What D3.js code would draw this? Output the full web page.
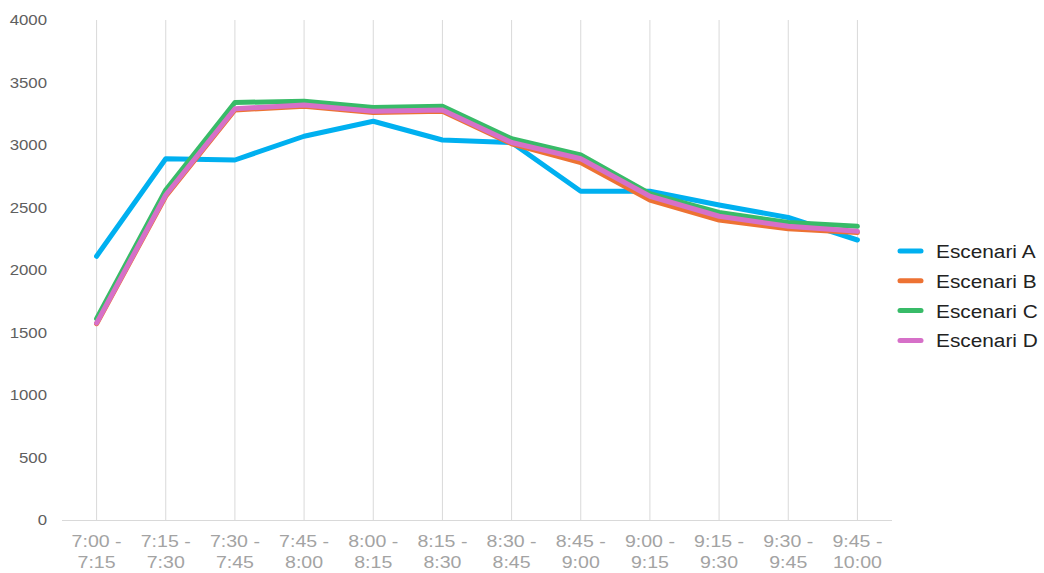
<!DOCTYPE html>
<html>
<head>
<meta charset="utf-8">
<script src="https://cdn.jsdelivr.net/npm/d3@7/dist/d3.min.js"></script>
<style>
  html, body { margin: 0; padding: 0; background: #fff; }
  svg { display: block; font-family: "Liberation Sans", Arial, sans-serif; }
</style>
</head>
<body>
<svg id="chart" width="1044" height="573"></svg>
<script>
// Quarter-hour intervals (two-line labels)
const categories = [
  ["7:00 -", "7:15"], ["7:15 -", "7:30"], ["7:30 -", "7:45"], ["7:45 -", "8:00"],
  ["8:00 -", "8:15"], ["8:15 -", "8:30"], ["8:30 -", "8:45"], ["8:45 -", "9:00"],
  ["9:00 -", "9:15"], ["9:15 -", "9:30"], ["9:30 -", "9:45"], ["9:45 -", "10:00"]
];
const seriesNames = ["Escenari A", "Escenari B", "Escenari C", "Escenari D"];
const escenariA = [2110, 2890, 2880, 3070, 3190, 3040, 3020, 2630, 2630, 2520, 2420, 2240];
const escenariB = [1570, 2590, 3280, 3310, 3260, 3270, 3010, 2860, 2560, 2400, 2330, 2300];
const escenariC = [1610, 2640, 3340, 3350, 3300, 3310, 3050, 2920, 2610, 2460, 2380, 2350];
const escenariD = [1575, 2600, 3290, 3320, 3270, 3280, 3020, 2890, 2590, 2430, 2350, 2310];
const yTicks = [0, 500, 1000, 1500, 2000, 2500, 3000, 3500, 4000];
const colors = ["#00b0f0", "#ed7233", "#38bb68", "#d670c8"];

const series = [escenariA, escenariB, escenariC, escenariD];

(function () {
  const svg = d3.select("#chart");
  const plotLeft = 62, plotRight = 892, plotTop = 20, plotBottom = 520;

  const x = d3.scalePoint()
    .domain(d3.range(categories.length))
    .range([plotLeft, plotRight])
    .padding(0.5);

  const y = d3.scaleLinear().domain([0, 4000]).range([plotBottom, plotTop]);

  // Vertical gridlines at each interval
  svg.append("g")
    .selectAll("line")
    .data(d3.range(categories.length))
    .join("line")
    .attr("x1", d => x(d)).attr("x2", d => x(d))
    .attr("y1", plotTop).attr("y2", plotBottom)
    .attr("stroke", "#d9d9d9").attr("stroke-width", 1);

  // Baseline
  svg.append("line")
    .attr("x1", plotLeft).attr("x2", plotRight)
    .attr("y1", y(0) + 0.5).attr("y2", y(0) + 0.5)
    .attr("stroke", "#d9d9d9").attr("stroke-width", 1);

  // Y axis labels (slightly wide lettering)
  const yAxis = d3.axisLeft(y).tickValues(yTicks).tickSize(0).tickPadding(0)
    .tickFormat(d3.format("d"));
  const gy = svg.append("g").attr("transform", "translate(47,0)").call(yAxis);
  gy.select(".domain").remove();
  gy.selectAll("text")
    .attr("fill", "#5f5f5f")
    .attr("transform", "scale(1.12,1)")
    .style("font-size", "15px")
    .style("font-family", "'Liberation Sans', Arial, sans-serif");

  // X axis labels (two lines)
  const xl = svg.append("g");
  categories.forEach((c, i) => {
    const g = xl.append("g").attr("transform", `translate(${x(i)},0) scale(1.2,1)`);
    const t = g.append("text")
      .attr("x", 0)
      .attr("y", 547.5)
      .attr("text-anchor", "middle")
      .attr("fill", "#a3a3a3")
      .style("font-size", "16.3px");
    t.append("tspan").attr("x", 0).attr("dy", 0).text(c[0]);
    t.append("tspan").attr("x", 0).attr("dy", 21).text(c[1]);
  });

  // Series lines
  const line = d3.line()
    .x((d, i) => x(i))
    .y(d => y(d));

  svg.append("g")
    .selectAll("path")
    .data(series)
    .join("path")
    .attr("d", d => line(d))
    .attr("fill", "none")
    .attr("stroke", (d, i) => colors[i])
    .attr("stroke-width", 5)
    .attr("stroke-linejoin", "round")
    .attr("stroke-linecap", "round");

  // Legend
  const legend = svg.append("g");
  seriesNames.forEach((name, i) => {
    const ly = 251 + i * 29.8;
    legend.append("line")
      .attr("x1", 900).attr("x2", 921)
      .attr("y1", ly).attr("y2", ly)
      .attr("stroke", colors[i])
      .attr("stroke-width", 5)
      .attr("stroke-linecap", "round");
    legend.append("g")
      .attr("transform", `translate(936,${ly + 7}) scale(1.12,1)`)
      .append("text")
      .attr("fill", "#222")
      .style("font-size", "18.6px")
      .text(name);
  });
})();
</script>
</body>
</html>
